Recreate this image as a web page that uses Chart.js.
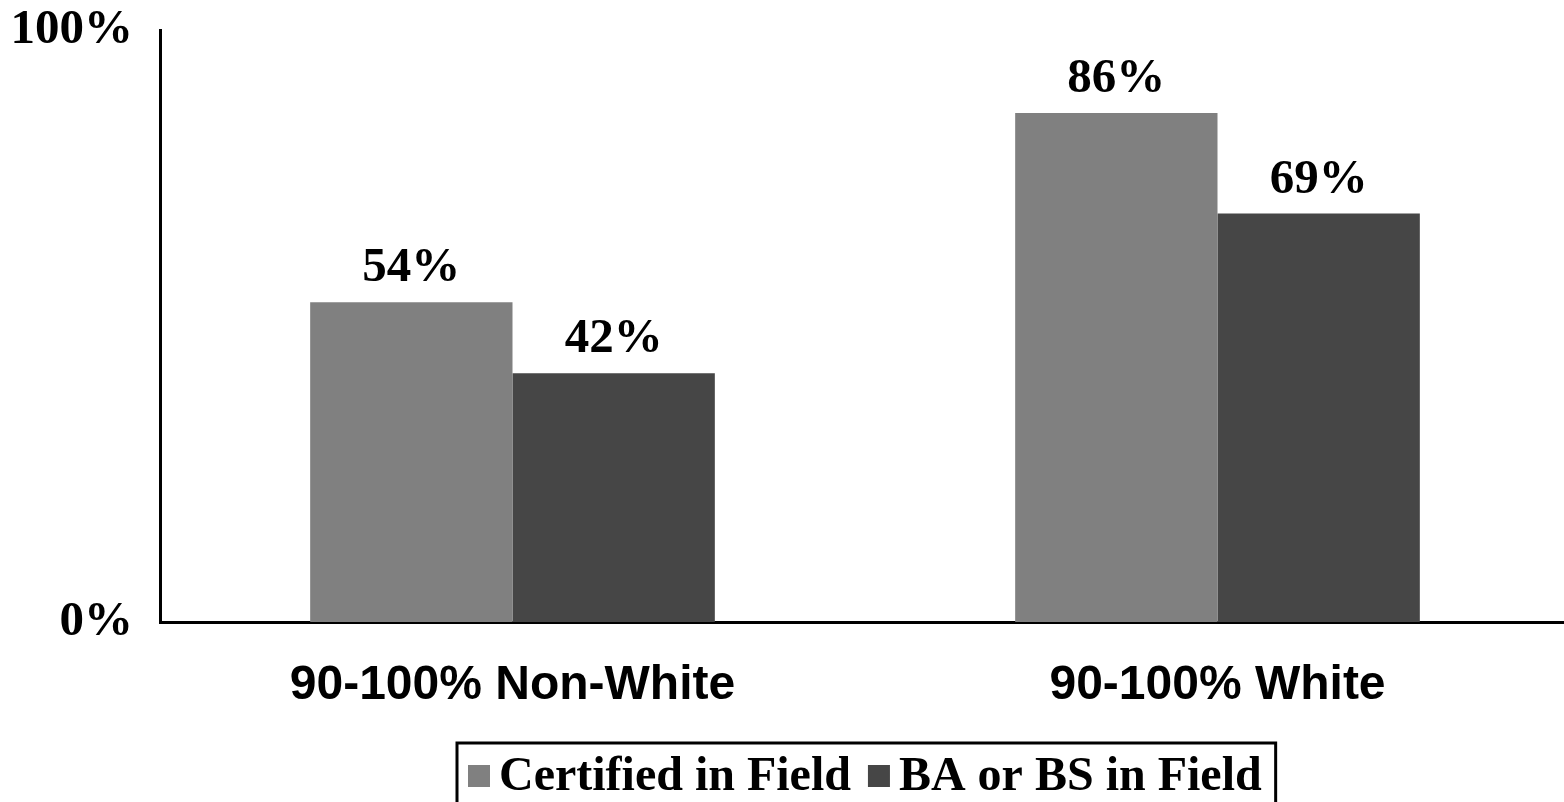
<!DOCTYPE html>
<html>
<head>
<meta charset="utf-8">
<script src="https://cdn.jsdelivr.net/npm/chart.js@4"></script>
<style>
  html, body { margin: 0; padding: 0; background: #fff; overflow: hidden; }
  #wrap { width: 1570px; height: 802px; position: relative; }
</style>
</head>
<body>
<div id="wrap"><canvas id="chart"></canvas></div>
<script>
// ---------- DATA ----------
const categories = ["90-100% Non-White", "90-100% White"];
const certifiedInField = [54, 86];
const degreeInField = [42, 69];
const yTicks = [0, 100];

const SERIF = "'Liberation Serif', 'Times New Roman', serif";
const SANS = "'Liberation Sans', Arial, sans-serif";

// ---------- VALUE LABELS ----------
const valueLabels = {
  id: "valueLabels",
  afterDatasetsDraw(chart) {
    const ctx = chart.ctx;
    ctx.save();
    ctx.font = "bold 49px " + SERIF;
    ctx.fillStyle = "#000";
    ctx.textAlign = "center";
    ctx.textBaseline = "alphabetic";
    chart.data.datasets.forEach((ds, i) => {
      chart.getDatasetMeta(i).data.forEach((bar, j) => {
        ctx.fillText(ds.data[j] + "%", bar.x, bar.y - 21);
      });
    });
    ctx.restore();
  },
};

// ---------- BOXED LEGEND ----------
const boxLegend = {
  id: "boxLegend",
  afterDraw(chart) {
    const ctx = chart.ctx;
    ctx.save();
    ctx.font = "bold 48px " + SERIF;
    const sw = 22;
    const items = chart.data.datasets.map((ds) => ({
      text: ds.label,
      color: ds.backgroundColor,
      w: ctx.measureText(ds.label).width,
    }));
    const padL = 11, gap = 9, between = 17, padR = 14;
    let total = padL + padR;
    items.forEach((it, k) => {
      total += sw + gap + it.w + (k < items.length - 1 ? between : 0);
    });
    const cx = 866;
    const left = Math.round(cx - total / 2);
    const top = 743;

    ctx.strokeStyle = "#000";
    ctx.lineWidth = 3;
    ctx.strokeRect(left, top, total, 80);

    let x = left + padL;
    ctx.textBaseline = "alphabetic";
    ctx.textAlign = "left";
    items.forEach((it) => {
      ctx.fillStyle = it.color;
      ctx.fillRect(x, 765, sw, sw);
      x += sw + gap;
      ctx.fillStyle = "#000";
      ctx.fillText(it.text, x, 790);
      x += it.w + between;
    });
    ctx.restore();
  },
};

// ---------- CHART ----------
const ctx = document.getElementById("chart").getContext("2d");

new Chart(ctx, {
  type: "bar",
  data: {
    labels: categories,
    datasets: [
      {
        label: "Certified in Field",
        data: certifiedInField,
        backgroundColor: "#808080",
        categoryPercentage: 0.574,
        barPercentage: 1,
      },
      {
        label: "BA or BS in Field",
        data: degreeInField,
        backgroundColor: "#464646",
        categoryPercentage: 0.574,
        barPercentage: 1,
      },
    ],
  },
  options: {
    responsive: true,
    maintainAspectRatio: false,
    animation: false,
    layout: { padding: { top: 30, right: 0, left: 0, bottom: 0 } },
    plugins: {
      legend: { display: false },
      tooltip: { enabled: false },
    },
    scales: {
      x: {
        grid: { display: false, drawTicks: false },
        border: { display: true, color: "#000", width: 3 },
        ticks: {
          color: "#000",
          padding: 35,
          font: { family: SANS, size: 48, weight: "bold" },
        },
        afterFit(scale) {
          scale.height = 180;
          scale.paddingLeft = 0;
          scale.paddingRight = 0;
        },
      },
      y: {
        min: 0,
        max: 100,
        grid: { display: false, drawTicks: false },
        border: { display: true, color: "#000", width: 3 },
        afterBuildTicks(scale) {
          scale.ticks = yTicks.map((v) => ({ value: v }));
        },
        ticks: {
          color: "#000",
          padding: 27,
          font: { family: SERIF, size: 49, weight: "bold" },
          callback: (v) => v + "%",
        },
        afterFit(scale) {
          scale.width = 160;
          scale.paddingTop = 0;
          scale.paddingBottom = 0;
        },
      },
    },
  },
  plugins: [valueLabels, boxLegend],
});
</script>
</body>
</html>
